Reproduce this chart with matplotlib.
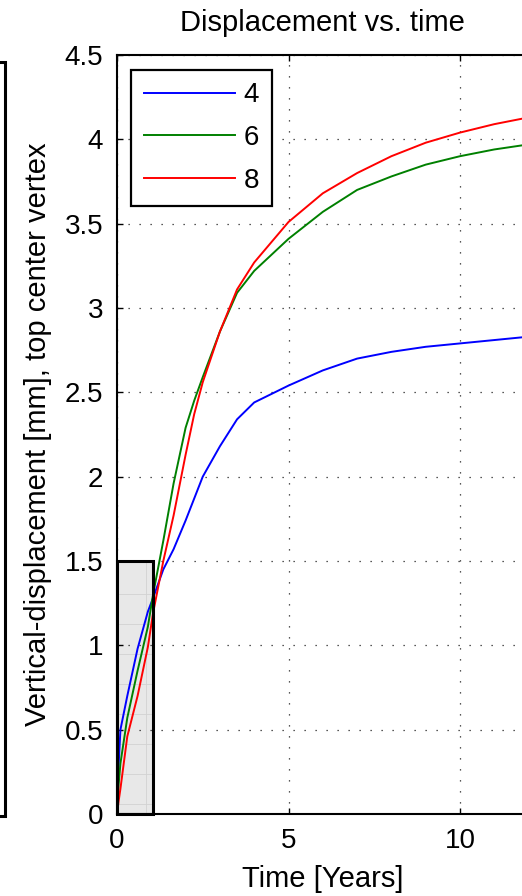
import matplotlib
matplotlib.use("Agg")
import matplotlib.pyplot as plt
from matplotlib.patches import Rectangle
from matplotlib.ticker import FuncFormatter

plt.rcParams['font.family'] = ['Liberation Sans', 'DejaVu Sans']

# Time samples [years] and vertical displacement [mm] for the three cases
time_years = [0, 0.05, 0.1, 0.3, 0.6, 0.9, 1.05, 1.35, 1.65, 2.0, 2.25, 2.5,
              3.0, 3.5, 4.0, 5.0, 6.0, 7.0, 8.0, 9.0, 10.0, 11.0, 12.0]
disp_4 = [0, 0.30, 0.50, 0.70, 0.98, 1.20, 1.28, 1.45, 1.57, 1.74, 1.87, 2.00,
          2.18, 2.34, 2.44, 2.54, 2.63, 2.70, 2.74, 2.77, 2.79, 2.81, 2.83]
disp_6 = [0, 0.18, 0.30, 0.57, 0.85, 1.11, 1.30, 1.62, 1.96, 2.29, 2.45, 2.59,
          2.86, 3.09, 3.22, 3.41, 3.57, 3.70, 3.78, 3.85, 3.90, 3.94, 3.97]
disp_8 = [0, 0.08, 0.15, 0.46, 0.70, 0.99, 1.19, 1.50, 1.77, 2.13, 2.37, 2.56,
          2.86, 3.11, 3.27, 3.51, 3.68, 3.80, 3.90, 3.98, 4.04, 4.09, 4.13]
series_labels = ['4', '6', '8']
series_colors = ['#0000ff', '#008000', '#ff0000']

x_ticks = [0, 5, 10]
y_ticks = [0, 0.5, 1, 1.5, 2, 2.5, 3, 3.5, 4, 4.5]

W, H = 522, 896
fig = plt.figure(figsize=(W / 100, H / 100), dpi=100)
ax = fig.add_axes([117 / W, 82 / H, 411.6 / W, 759 / H])

# early-time highlight region
box_t, box_v = 1.05, 1.5
ax.add_patch(Rectangle((0, 0), box_t, box_v, facecolor='#808080', alpha=0.18,
                       edgecolor='none', zorder=1))
for v in [0.06, 0.238, 0.416, 0.594, 0.772, 0.95, 1.128, 1.306]:
    ax.plot([0, box_t], [v, v], color='#d2d2d2', lw=0.6, zorder=1.5)
ax.plot([0.85, 0.85], [0, box_v], color='#d2d2d2', lw=0.6, zorder=1.5)

for y, lab, col in zip([disp_4, disp_6, disp_8], series_labels, series_colors):
    ax.plot(time_years, y, color=col, lw=1.4, label=lab, zorder=3)

ax.add_patch(Rectangle((0, 0), box_t, box_v, facecolor='none',
                       edgecolor='black', lw=2.2, zorder=4, clip_on=False))

ax.set_xlim(0, 12)
ax.set_ylim(0, 4.5)
ax.set_xticks(x_ticks)
ax.set_yticks(y_ticks)
ax.yaxis.set_major_formatter(FuncFormatter(lambda v, p: f"{v:g}"))
ax.grid(True, color='#222222', linestyle=(0, (1, 7.8)), lw=0.9)
ax.tick_params(direction='in', length=4, width=1, top=True, right=True,
               labelsize=20, pad=10)
for s in ax.spines.values():
    s.set_linewidth(1.5)

ax.set_title('Displacement vs. time', fontsize=21, pad=17)
ax.set_xlabel('Time [Years]', fontsize=21, labelpad=8)
ax.set_ylabel('Vertical-displacement [mm], top center vertex', fontsize=21,
              labelpad=9)

leg = ax.legend(loc='upper left', bbox_to_anchor=(131 / W, 1 - 70 / H),
                bbox_transform=fig.transFigure, borderaxespad=0, fontsize=20,
                handlelength=3.3, handletextpad=0.3, labelspacing=0.6,
                borderpad=0.45, fancybox=False, framealpha=1)
leg.get_frame().set_edgecolor('black')
leg.get_frame().set_linewidth(1.6)

# edge of neighbouring panel at the left border
fig.add_artist(Rectangle((-50 / W, 80 / H), 55 / W, 754 / H,
                         transform=fig.transFigure, facecolor='none',
                         edgecolor='black', lw=2.2))

fig.savefig('out.png', dpi=100)
